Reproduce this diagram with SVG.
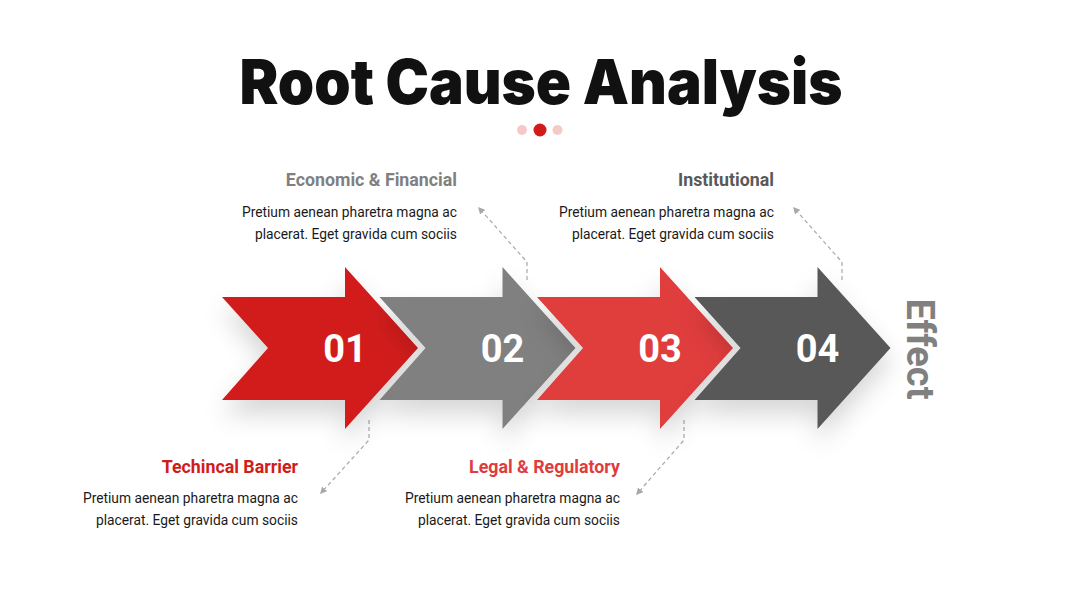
<svg xmlns="http://www.w3.org/2000/svg" xmlns:xlink="http://www.w3.org/1999/xlink" width="1080" height="608" viewBox="0 0 1080 608">
  <style>
    .title { font-family: Inter, "Liberation Sans", sans-serif; font-weight: 900; font-size: 62px; fill: #111111; }
    .num { font-family: Roboto, "Liberation Sans", sans-serif; font-weight: 700; font-size: 38px; fill: #ffffff; text-anchor: middle; }
    .head { font-family: Roboto, "Liberation Sans", sans-serif; font-weight: 700; font-size: 17.8px; text-anchor: end; }
    .body { font-family: Roboto, "Liberation Sans", sans-serif; font-weight: 400; font-size: 13.8px; fill: #1a1a1a; text-anchor: end; }
    .effect { font-family: Roboto, "Liberation Sans", sans-serif; font-weight: 700; font-size: 38px; fill: #808080; text-anchor: middle; }
    .conn { fill: none; stroke: #a8a8a8; stroke-width: 1.2; stroke-dasharray: 4 3; }
  </style>
  <defs>
    <path id="arr" d="M222,297 H345 V267 L418,348 L345,429 V400 H222 L268,348 Z"/>
    <filter id="shadow" x="-20%" y="-20%" width="140%" height="160%">
      <feDropShadow dx="0" dy="14" stdDeviation="12" flood-color="#000000" flood-opacity="0.16"/>
    </filter>
    <marker id="ah" viewBox="0 0 10 10" refX="8" refY="5" markerWidth="7" markerHeight="7" orient="auto" markerUnits="userSpaceOnUse">
      <path d="M0,0 L10,5 L0,10 Z" fill="#a8a8a8"/>
    </marker>
  </defs>
  <rect width="1080" height="608" fill="#ffffff"/>

  <g id="title">
    <text class="title" x="541" y="104" text-anchor="middle" textLength="603" lengthAdjust="spacingAndGlyphs">Root Cause Analysis</text>
    <circle cx="522" cy="130" r="5" fill="#f6c9c9"/>
    <circle cx="540" cy="130" r="6.5" fill="#d21c1a"/>
    <circle cx="557.5" cy="130" r="5" fill="#f6c9c9"/>
  </g>

  <g id="connectors">
    <path class="conn" d="M527,280 V262 L479,208" marker-end="url(#ah)"/>
    <path class="conn" d="M842,280 V262 L794,208" marker-end="url(#ah)"/>
    <path class="conn" d="M369,420 V440 L321,493" marker-end="url(#ah)"/>
    <path class="conn" d="M684,420 V440 L637,494" marker-end="url(#ah)"/>
  </g>

  <g id="node-01">
    <use xlink:href="#arr" href="#arr" fill="#d21c1a" filter="url(#shadow)"/>
    <text class="num" x="345" y="362">01</text>
    <text class="head" x="298" y="473" fill="#d21c1a">Techincal Barrier</text>
    <text class="body" x="298" y="503">Pretium aenean pharetra magna ac</text>
    <text class="body" x="298" y="525">placerat. Eget gravida cum sociis</text>
  </g>

  <g id="node-02">
    <use xlink:href="#arr" href="#arr" transform="translate(157.5,0)" fill="#808080" filter="url(#shadow)"/>
    <text class="num" x="502.5" y="362">02</text>
    <text class="head" x="457" y="186" fill="#808080">Economic &amp; Financial</text>
    <text class="body" x="457" y="217">Pretium aenean pharetra magna ac</text>
    <text class="body" x="457" y="239">placerat. Eget gravida cum sociis</text>
  </g>

  <g id="node-03">
    <use xlink:href="#arr" href="#arr" transform="translate(315,0)" fill="#e03c3e" filter="url(#shadow)"/>
    <text class="num" x="660" y="362">03</text>
    <text class="head" x="620" y="473" fill="#e03c3e">Legal &amp; Regulatory</text>
    <text class="body" x="620" y="503">Pretium aenean pharetra magna ac</text>
    <text class="body" x="620" y="525">placerat. Eget gravida cum sociis</text>
  </g>

  <g id="node-04">
    <use xlink:href="#arr" href="#arr" transform="translate(472.5,0)" fill="#595959" filter="url(#shadow)"/>
    <text class="num" x="817.5" y="362">04</text>
    <text class="head" x="774" y="186" fill="#595959">Institutional</text>
    <text class="body" x="774" y="217">Pretium aenean pharetra magna ac</text>
    <text class="body" x="774" y="239">placerat. Eget gravida cum sociis</text>
  </g>

  <g id="effect">
    <text class="effect" transform="translate(907,349) rotate(90)">Effect</text>
  </g>
</svg>
